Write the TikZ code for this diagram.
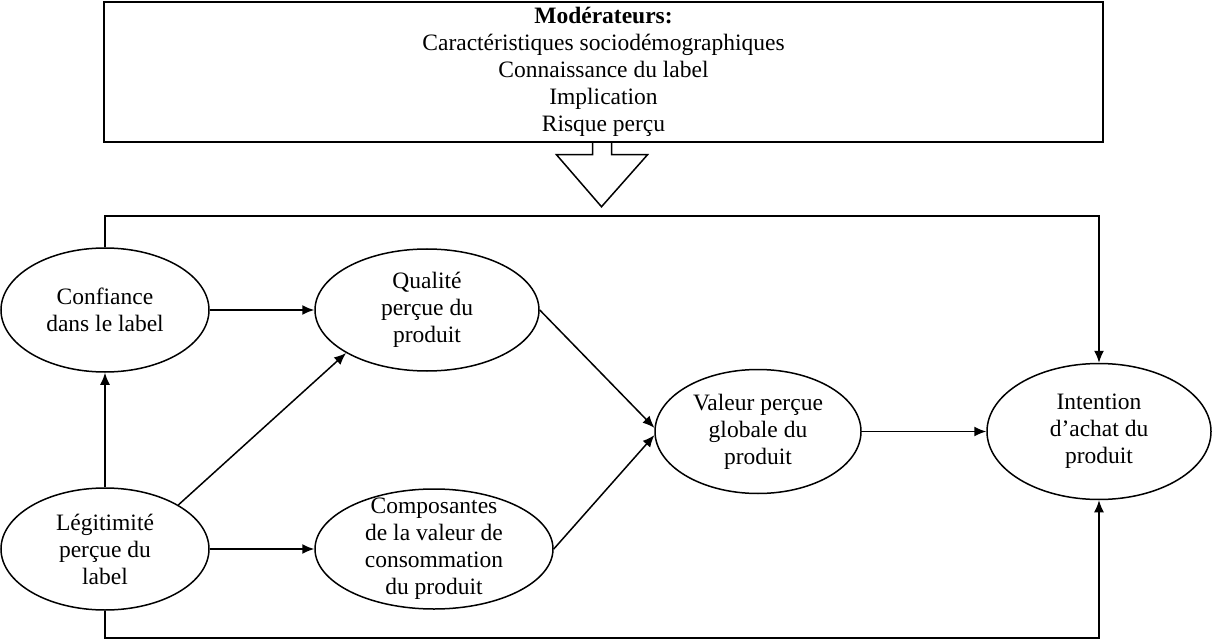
\documentclass[tikz,border=0pt]{standalone}
\usepackage{fontspec}
\setmainfont{Liberation Serif}
\usetikzlibrary{shapes.geometric,arrows.meta}
\begin{document}
\begin{tikzpicture}[x=1pt,y=-1pt,
  line width=1.5pt,
  every node/.style={font=\fontsize{23.5}{27}\selectfont},
  ell/.style={draw, ellipse, align=center, inner xsep=0pt, inner ysep=-20pt},
  arr/.style={-{Latex[length=12pt,width=10pt]}},
]
\useasboundingbox (0,0) rectangle (1212,644);

\node[draw, minimum width=999pt, minimum height=140pt, inner sep=0pt, align=center] (mod) at (603.5,72)
  {\textbf{Modérateurs:}\\Caractéristiques sociodémographiques\\Connaissance du label\\Implication\\Risque perçu};

\draw ([xshift=-11pt]mod.south) -- ++(0,12) -- ++(-36,0) -- ++(45,52) -- ++(46,-52) -- ++(-36,0) -- ++(0,-12);

\node[ell, minimum width=208pt, minimum height=124pt] (conf) at (105,310) {Confiance\\dans le label};
\node[ell, minimum width=208pt, minimum height=122pt] (leg) at (105,549) {Légitimité\\perçue du\\label};
\node[ell, minimum width=224pt, minimum height=122pt] (qual) at (427,310) {Qualité\\perçue du\\produit};
\node[ell, minimum width=238pt, minimum height=120pt] (comp) at (434,549) {Composantes\\de la valeur de\\consommation\\du produit};
\node[ell, minimum width=206pt, minimum height=124pt] (val) at (758,431.5) {Valeur perçue\\globale du\\produit};
\node[ell, minimum width=224pt, minimum height=136pt] (int) at (1099,431.5) {Intention\\d’achat du\\produit};

\coordinate (tl) at (105,216);
\coordinate (bl) at (105,638);

\draw[arr] (conf.east) -- (qual.west);
\draw[arr] (leg.north) -- (conf.south);
\draw[arr] (leg.31) -- (qual.208);
\draw[arr] (leg.east) -- (comp.west);
\draw[arr] (qual.east) -- (val.178);
\draw[arr] (comp.east) -- (val.182);
\draw[arr] (val.east) -- (int.west);
\draw[arr] (conf.north) -- (tl) -| (int.north);
\draw[arr] (leg.south) -- (bl) -| (int.south);
\end{tikzpicture}
\end{document}
